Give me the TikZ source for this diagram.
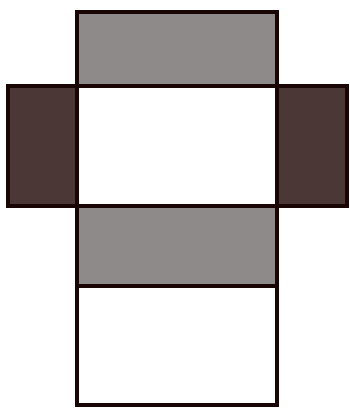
\documentclass[tikz,border=0pt]{standalone}
\definecolor{edge}{HTML}{1A0505}
\definecolor{lightface}{HTML}{8F8A8A}
\definecolor{darkface}{HTML}{4B3735}
\begin{document}
\begin{tikzpicture}[x=1pt,y=-1pt,
  face/.style={draw=edge,line width=4pt,line join=miter}]
\useasboundingbox (0,0) rectangle (349,408);
% top face
\path[face,fill=lightface] (77,12) rectangle (277,86);
% left and right flaps
\path[face,fill=darkface] (7.5,86) rectangle (77,206);
\path[face,fill=darkface] (277,86) rectangle (347,206);
% middle white face
\path[face,fill=white] (77,86) rectangle (277,206);
% lower gray face
\path[face,fill=lightface] (77,206) rectangle (277,286);
% bottom white face
\path[face,fill=white] (77,286) rectangle (277,405);
\end{tikzpicture}
\end{document}
